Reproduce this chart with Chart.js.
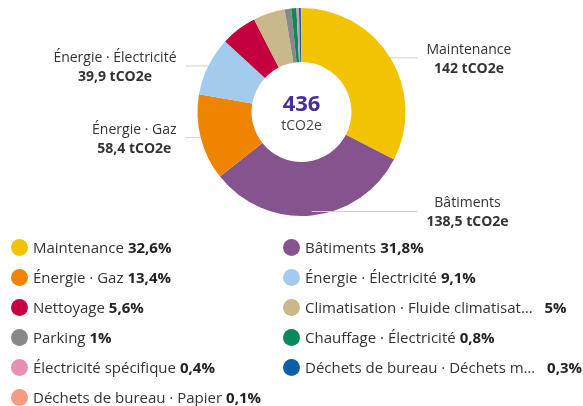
<!DOCTYPE html>
<html>
<head>
<meta charset="utf-8">
<script src="https://cdn.jsdelivr.net/npm/chart.js@4.4.1/dist/chart.umd.min.js"></script>
<style>
  body { margin: 0; background: #fff; width: 583px; height: 406px; overflow: hidden; font-family: "Open Sans", sans-serif; }
  #wrap { position: absolute; left: 0; top: 0; width: 583px; height: 406px; }
  #legend { position: absolute; left: 0; top: 237px; width: 583px; }
  .item { position: absolute; display: flex; align-items: center; font-size: 15px; color: #333; white-space: nowrap; }
  .dot { width: 17px; height: 17px; border-radius: 50%; margin-right: 5px; }
  .item b { font-weight: 700; color: #222; margin-left: 4px; }
</style>
</head>
<body>
<div id="wrap"><canvas id="myChart"></canvas></div>
<div id="legend"></div>
<script>
// categories in drawing order (clockwise from top)
var labels = ["Maintenance", "Bâtiments", "Énergie · Gaz", "Énergie · Électricité", "Nettoyage",
  "Climatisation · Fluide climatisat…", "Parking", "Chauffage · Électricité",
  "Électricité spécifique", "Déchets de bureau · Déchets m…", "Déchets de bureau · Papier"];
var values = [142, 138.5, 58.4, 39.9, 24.4, 21.5, 4.4, 3.5, 1.7, 1.3, 0.4];
var percents = ["32,6%", "31,8%", "13,4%", "9,1%", "5,6%", "5%", "1%", "0,8%", "0,4%", "0,3%", "0,1%"];
var valueText = ["142", "138,5", "58,4", "39,9"];
var colors = ["#f2c300", "#85548f", "#f08400", "#a3cbee", "#c5003e", "#c9b88a",
  "#888888", "#0a8a5b", "#e690b2", "#0b5fa5", "#f69a80"];
var totalText = "436";
var unit = "tCO2e";

// legend (two columns, left column gets even indexes)
var legend = document.getElementById("legend");
for (var i = 0; i < labels.length; i++) {
    var col = i % 2, row = Math.floor(i / 2);
    var el = document.createElement("div");
    el.className = "item";
    el.style.left = (col == 0 ? 11 : 283) + "px";
    el.style.top = (row * 30) + "px";
    var gap = labels[i].indexOf("…") >= 0 ? "&nbsp;&nbsp;" : "";
    el.innerHTML = '<span class="dot" style="background:' + colors[i] + '"></span>' + labels[i] + gap + '<b>' + percents[i] + '</b>';
    legend.appendChild(el);
}

// center text + callouts for the 4 largest slices
var calloutPlugin = {
    id: "callouts",
    afterDraw: function (chart) {
        var ctx = chart.ctx;
        var arcs = chart.getDatasetMeta(0).data;
        var cx = arcs[0].x, cy = arcs[0].y, r = arcs[0].outerRadius;
        ctx.save();
        ctx.textAlign = "center";
        ctx.textBaseline = "middle";
        ctx.fillStyle = "#4b2e91";
        ctx.font = "bold 22px 'Open Sans'";
        ctx.fillText(totalText, cx, cy - 7);
        ctx.fillStyle = "#444";
        ctx.font = "14px 'Open Sans'";
        ctx.fillText(unit, cx, cy + 14);

        for (var i = 0; i < valueText.length; i++) {
            var a = arcs[i];
            var mid = (a.startAngle + a.endAngle) / 2;
            var px = cx + Math.cos(mid) * r, py = cy + Math.sin(mid) * r;
            var right = px >= cx;
            var ex = right ? cx + r + 12 : cx - r - 12;
            if (i == 1) py -= 4;
            ctx.strokeStyle = "#d0d0d0";
            ctx.lineWidth = 1;
            ctx.beginPath();
            ctx.moveTo(px, py);
            ctx.lineTo(ex, py);
            ctx.stroke();

            var t1 = labels[i], t2 = valueText[i] + " " + unit;
            ctx.font = "14px 'Open Sans'";
            var w1 = ctx.measureText(t1).width;
            ctx.font = "bold 14px 'Open Sans'";
            var w2 = ctx.measureText(t2).width;
            var w = Math.max(w1, w2);
            var bx = right ? ex + 9 + w / 2 : ex - 9 - w / 2;
            ctx.fillStyle = "#333";
            ctx.font = "14px 'Open Sans'";
            ctx.fillText(t1, bx, py - 8);
            ctx.font = "bold 14px 'Open Sans'";
            ctx.fillText(t2, bx, py + 11);
        }
        ctx.restore();
    }
};

new Chart("myChart", {
    type: "doughnut",
    data: {
        labels: labels,
        datasets: [{
            data: values,
            backgroundColor: colors,
            borderWidth: 0
        }]
    },
    options: {
        responsive: true,
        maintainAspectRatio: false,
        animation: false,
        cutout: "48%",
        layout: { padding: { top: 8, bottom: 190, left: 20, right: 0 } },
        plugins: {
            legend: { display: false },
            tooltip: { enabled: false }
        }
    },
    plugins: [calloutPlugin]
});
</script>
</body>
</html>
